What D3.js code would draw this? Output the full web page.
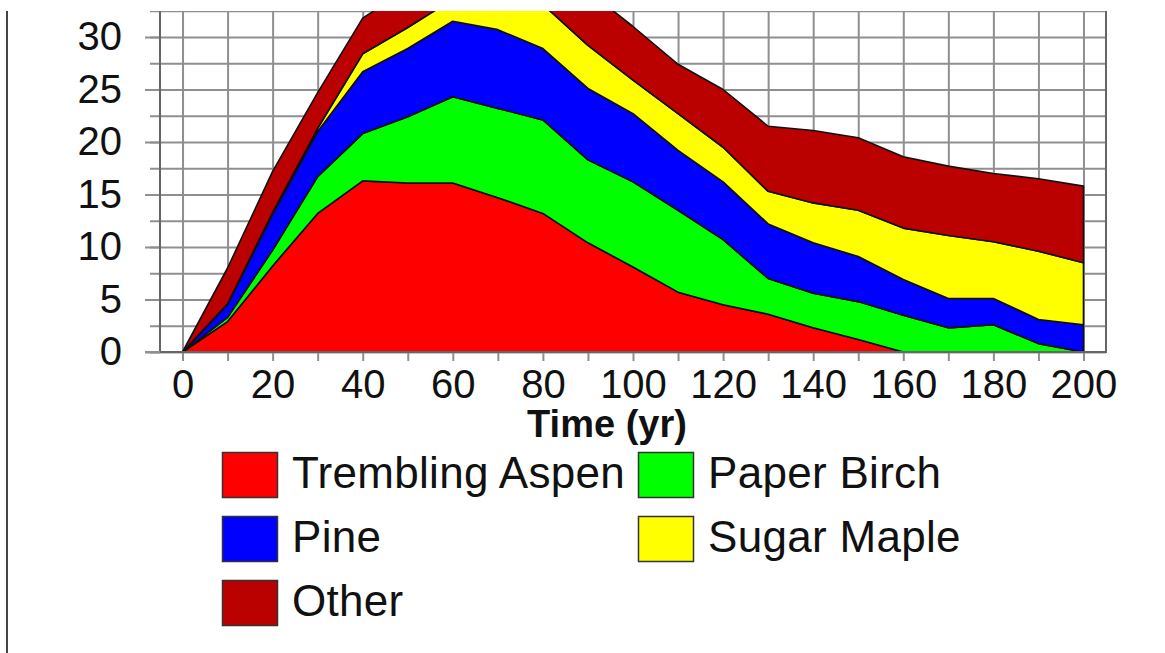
<!DOCTYPE html>
<html>
<head>
<meta charset="utf-8">
<script src="https://cdn.jsdelivr.net/npm/d3@7"></script>
<style>
  body { margin: 0; background: #fff; }
  svg { display: block; font-family: "Liberation Sans", Arial, sans-serif; }
</style>
</head>
<body>
<div id="chart"></div>
<script>
// data (basal area per species, stacked)
var years = [0, 10, 20, 30, 40, 50, 60, 70, 80, 90, 100, 110, 120, 130, 140, 150, 160, 170, 180, 190, 200];
var aspen = [0, 2.9, 8.2, 13.2, 16.3, 16.1, 16.1, 14.7, 13.2, 10.4, 8.1, 5.7, 4.5, 3.6, 2.3, 1.2, 0, 0, 0, 0, 0];
var birch = [0, 0.4, 1.5, 3.5, 4.5, 6.3, 8.2, 8.5, 8.9, 7.9, 8.1, 7.8, 6.2, 3.4, 3.3, 3.6, 3.5, 2.3, 2.6, 0.8, 0];
var pine = [0, 1.2, 3.4, 4.3, 5.9, 6.5, 7.2, 7.5, 6.8, 6.8, 6.5, 5.7, 5.5, 5.2, 4.8, 4.3, 3.4, 2.8, 2.5, 2.3, 2.6];
var maple = [0, 0.1, 0.2, 0.3, 1.7, 2.0, 2.1, 3.3, 4.2, 4.1, 3.2, 3.5, 3.3, 3.1, 3.8, 4.4, 4.9, 6.0, 5.4, 6.5, 5.9];
var other = [0, 3.4, 3.9, 3.4, 3.4, 3.7, 3.8, 4.6, 4.5, 5.2, 5.1, 4.7, 5.5, 6.2, 6.9, 6.9, 6.8, 6.6, 6.5, 6.9, 7.3];

var keys = ["aspen", "birch", "pine", "maple", "other"];
var names = ["Trembling Aspen", "Paper Birch", "Pine", "Sugar Maple", "Other"];
var colors = ["#ff0000", "#00ff00", "#0000ff", "#ffff00", "#bb0000"];
var yTicks = [0, 5, 10, 15, 20, 25, 30];
var xTicks = [0, 20, 40, 60, 80, 100, 120, 140, 160, 180, 200];
var x_label = "Time (yr)";

var width = 1165, height = 653;
var plotLeft = 160, plotRight = 1106, plotBottom = 352, plotTop = 11;

var svg = d3.select("#chart").append("svg").attr("width", width).attr("height", height);

// setup scales
var x_scale = d3.scaleLinear().domain([-5, 205]).range([plotLeft, plotRight]);
var y_scale = d3.scaleLinear().domain([0, 30]).range([plotBottom, 37]);

svg.append("clipPath").attr("id", "plotclip")
    .append("rect").attr("x", 0).attr("y", plotTop).attr("width", width).attr("height", plotBottom - plotTop + 20);

// page border on the left
svg.append("line").attr("x1", 7).attr("x2", 7).attr("y1", plotTop).attr("y2", height)
    .attr("stroke", "#444").attr("stroke-width", 2);

var plot = svg.append("g").attr("clip-path", "url(#plotclip)");

// horizontal grid (every 2.5) with short ticks to the left
plot.append("g")
    .attr("transform", "translate(150,0)")
    .call(d3.axisLeft(y_scale).tickValues(d3.range(0, 33, 2.5)).tickSize(-(plotRight - 150)).tickFormat(""))
    .call(g => g.select(".domain").remove())
    .call(g => g.selectAll("line").attr("stroke", "#8f8f8f").attr("stroke-width", 2));

// vertical grid (every 10)
plot.append("g")
    .attr("transform", "translate(0," + plotBottom + ")")
    .call(d3.axisBottom(x_scale).tickValues(d3.range(0, 201, 10)).tickSize(-(plotBottom - plotTop)).tickFormat(""))
    .call(g => g.select(".domain").remove())
    .call(g => g.selectAll("line").attr("stroke", "#8f8f8f").attr("stroke-width", 2));

// y axis labels + major tick stubs
var yAxis = svg.append("g")
    .attr("transform", "translate(" + plotLeft + ",0)")
    .call(d3.axisLeft(y_scale).tickValues(yTicks).tickSize(15).tickPadding(23));
yAxis.select(".domain").remove();
yAxis.selectAll("line").attr("stroke", "#8f8f8f").attr("stroke-width", 2);
yAxis.selectAll("text").attr("font-size", 40).attr("fill", "#111")
    .attr("font-family", "Liberation Sans, Arial, sans-serif");

// x axis ticks + labels
var xAxis = svg.append("g")
    .attr("transform", "translate(0," + plotBottom + ")")
    .call(d3.axisBottom(x_scale).tickValues(d3.range(0, 201, 10)).tickSize(9).tickPadding(9)
        .tickFormat(function (d) { return xTicks.indexOf(d) >= 0 ? d : ""; }));
xAxis.select(".domain").remove();
xAxis.selectAll("line").attr("stroke", "#8f8f8f").attr("stroke-width", 2);
xAxis.selectAll("text").attr("font-size", 40).attr("fill", "#111")
    .attr("font-family", "Liberation Sans, Arial, sans-serif");

// stacked areas
var table = years.map(function (yr, i) {
    return { year: yr, aspen: aspen[i], birch: birch[i], pine: pine[i], maple: maple[i], other: other[i] };
});
var series = d3.stack().keys(keys)(table);
var area = d3.area()
    .x(function (d) { return x_scale(d.data.year); })
    .y0(function (d) { return y_scale(d[0]); })
    .y1(function (d) { return y_scale(d[1]); });

plot.selectAll("path.layer")
    .data(series)
    .enter()
    .append("path")
    .attr("class", "layer")
    .attr("d", area)
    .attr("fill", function (d, i) { return colors[i]; })
    .attr("stroke", "#111")
    .attr("stroke-width", 1.6)
    .attr("stroke-linejoin", "round");

// frame
svg.append("path")
    .attr("d", "M" + plotLeft + "," + plotTop + "V" + plotBottom + "H" + plotRight + "V" + plotTop)
    .attr("fill", "none").attr("stroke", "#666").attr("stroke-width", 2);
svg.append("line").attr("x1", 145).attr("x2", plotLeft).attr("y1", plotBottom).attr("y2", plotBottom)
    .attr("stroke", "#8f8f8f").attr("stroke-width", 2);

// axis title
svg.append("text")
    .attr("x", 607).attr("y", 437)
    .attr("text-anchor", "middle")
    .attr("font-size", 38).attr("font-weight", "bold").attr("fill", "#111")
    .text(x_label);

// legend
var legendPos = [[222, 452], [638, 452], [222, 516], [638, 516], [222, 580]];
var legend = svg.selectAll("g.legend")
    .data(names)
    .enter()
    .append("g")
    .attr("class", "legend")
    .attr("transform", function (d, i) { return "translate(" + legendPos[i][0] + "," + legendPos[i][1] + ")"; });
legend.append("rect")
    .attr("x", 0.5).attr("y", 0.5).attr("width", 55).attr("height", 45)
    .attr("fill", function (d, i) { return colors[i]; })
    .attr("stroke", "#333").attr("stroke-width", 1.5);
legend.append("text")
    .attr("x", 70).attr("y", 36)
    .attr("font-size", 44).attr("letter-spacing", 0.3).attr("fill", "#111")
    .text(function (d) { return d; });
</script>
</body>
</html>
